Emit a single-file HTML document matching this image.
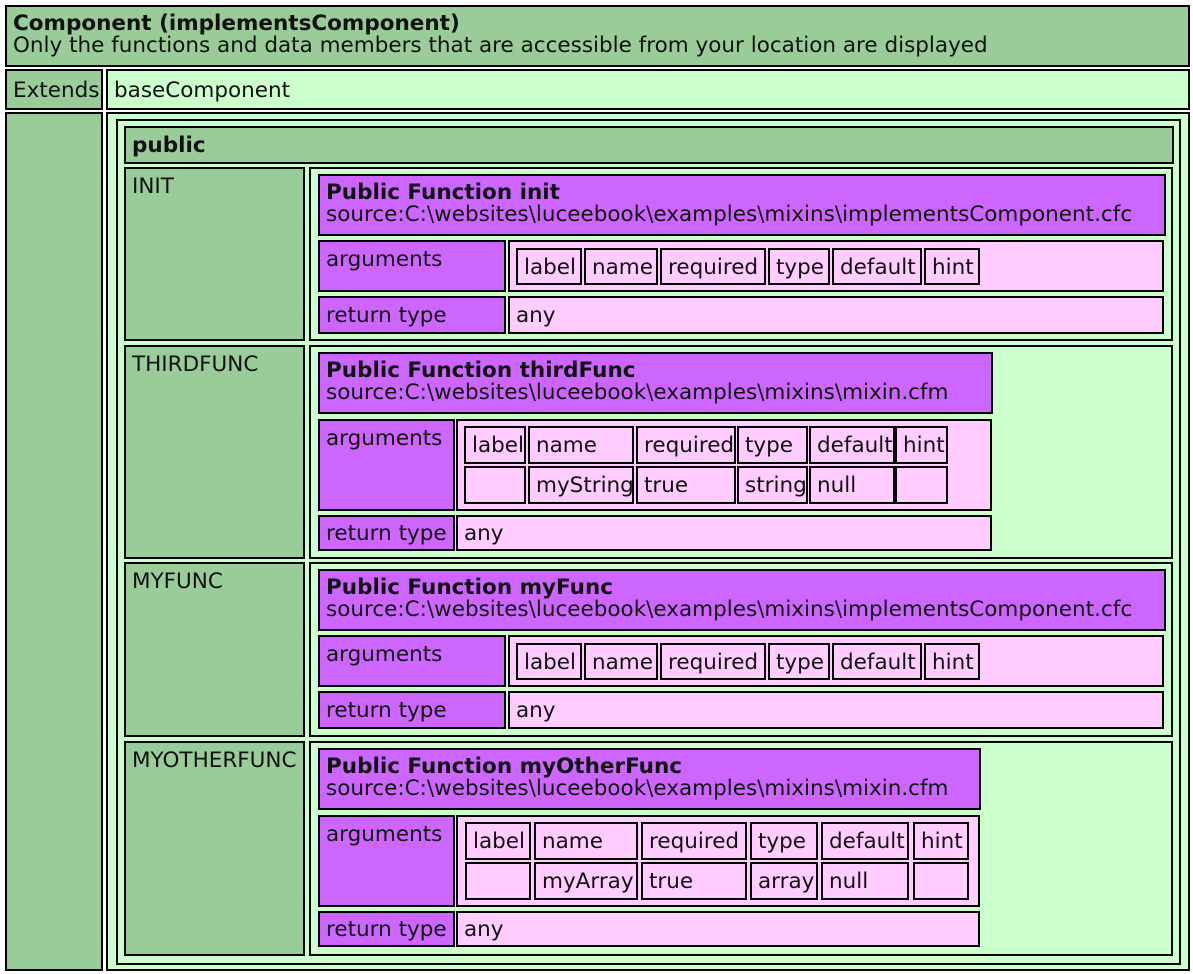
<!DOCTYPE html>
<html><head><meta charset="utf-8"><style>
body{margin:0;background:#fff;width:1193px;height:974px;position:relative;overflow:hidden;font-family:"DejaVu Sans","Liberation Sans",sans-serif;font-size:21.5px;color:#111}
.b{position:absolute;box-sizing:border-box;border:2px solid #000;padding:7px 4px 0 6px;line-height:22px;white-space:nowrap;overflow:hidden}
.c{display:flex;align-items:center;padding-top:2px;padding-bottom:0}
.g{background:#99cc99}.l{background:#ccffcc}.p{background:#cc66ff}.k{background:#ffccff}
b{font-weight:bold}
</style></head><body>
<div class="b g" style="left:5px;top:5px;width:1185px;height:62px;padding-top:6px"><b>Component (implementsComponent)</b><br>Only the functions and data members that are accessible from your location are displayed</div>
<div class="b g c" style="left:5px;top:69px;width:98px;height:41px">Extends</div>
<div class="b l c" style="left:106px;top:69px;width:1084px;height:41px">baseComponent</div>
<div class="b g" style="left:5px;top:112px;width:98px;height:859px"></div>
<div class="b l" style="left:106px;top:112px;width:1084px;height:859px"></div>
<div class="b l" style="left:116px;top:119px;width:1065px;height:846px"></div>
<div class="b g c" style="left:124px;top:126px;width:1050px;height:38px"><b>public</b></div>

<!-- INIT -->
<div class="b g" style="left:124px;top:167px;width:181px;height:174px">INIT</div>
<div class="b l" style="left:309px;top:167px;width:864px;height:174px"></div>
<div class="b p" style="left:318px;top:174px;width:848px;height:62px;padding-top:6px"><b>Public Function init</b><br>source:C:\websites\luceebook\examples\mixins\implementsComponent.cfc</div>
<div class="b p" style="left:318px;top:240px;width:188px;height:52px">arguments</div>
<div class="b k" style="left:508px;top:240px;width:656px;height:52px"></div>
<div class="b k c" style="left:516px;top:248px;width:66px;height:37px">label</div>
<div class="b k c" style="left:584px;top:248px;width:74px;height:37px">name</div>
<div class="b k c" style="left:660px;top:248px;width:106px;height:37px">required</div>
<div class="b k c" style="left:768px;top:248px;width:62px;height:37px">type</div>
<div class="b k c" style="left:832px;top:248px;width:90px;height:37px">default</div>
<div class="b k c" style="left:924px;top:248px;width:56px;height:37px">hint</div>
<div class="b p c" style="left:318px;top:296px;width:188px;height:38px">return type</div>
<div class="b k c" style="left:508px;top:296px;width:656px;height:38px">any</div>

<!-- THIRDFUNC -->
<div class="b g" style="left:124px;top:345px;width:181px;height:214px">THIRDFUNC</div>
<div class="b l" style="left:309px;top:345px;width:864px;height:214px"></div>
<div class="b p" style="left:318px;top:352px;width:675px;height:62px;padding-top:6px"><b>Public Function thirdFunc</b><br>source:C:\websites\luceebook\examples\mixins\mixin.cfm</div>
<div class="b p" style="left:318px;top:419px;width:137px;height:92px">arguments</div>
<div class="b k" style="left:456px;top:419px;width:536px;height:92px"></div>
<div class="b k c" style="left:464px;top:426px;width:62px;height:38px">label</div>
<div class="b k c" style="left:528px;top:426px;width:106px;height:38px">name</div>
<div class="b k c" style="left:636px;top:426px;width:100px;height:38px">required</div>
<div class="b k c" style="left:737px;top:426px;width:71px;height:38px">type</div>
<div class="b k c" style="left:809px;top:426px;width:86px;height:38px">default</div>
<div class="b k c" style="left:895px;top:426px;width:53px;height:38px">hint</div>
<div class="b k c" style="left:464px;top:466px;width:62px;height:38px"></div>
<div class="b k c" style="left:528px;top:466px;width:106px;height:38px">myString</div>
<div class="b k c" style="left:636px;top:466px;width:100px;height:38px">true</div>
<div class="b k c" style="left:737px;top:466px;width:71px;height:38px">string</div>
<div class="b k c" style="left:809px;top:466px;width:86px;height:38px">null</div>
<div class="b k c" style="left:895px;top:466px;width:53px;height:38px"></div>
<div class="b p c" style="left:318px;top:515px;width:137px;height:36px">return type</div>
<div class="b k c" style="left:456px;top:515px;width:536px;height:36px">any</div>

<!-- MYFUNC -->
<div class="b g" style="left:124px;top:562px;width:181px;height:175px">MYFUNC</div>
<div class="b l" style="left:309px;top:562px;width:864px;height:175px"></div>
<div class="b p" style="left:318px;top:569px;width:848px;height:62px;padding-top:6px"><b>Public Function myFunc</b><br>source:C:\websites\luceebook\examples\mixins\implementsComponent.cfc</div>
<div class="b p" style="left:318px;top:635px;width:188px;height:52px">arguments</div>
<div class="b k" style="left:508px;top:635px;width:656px;height:52px"></div>
<div class="b k c" style="left:516px;top:643px;width:66px;height:37px">label</div>
<div class="b k c" style="left:584px;top:643px;width:74px;height:37px">name</div>
<div class="b k c" style="left:660px;top:643px;width:106px;height:37px">required</div>
<div class="b k c" style="left:768px;top:643px;width:62px;height:37px">type</div>
<div class="b k c" style="left:832px;top:643px;width:90px;height:37px">default</div>
<div class="b k c" style="left:924px;top:643px;width:56px;height:37px">hint</div>
<div class="b p c" style="left:318px;top:691px;width:188px;height:38px">return type</div>
<div class="b k c" style="left:508px;top:691px;width:656px;height:38px">any</div>

<!-- MYOTHERFUNC -->
<div class="b g" style="left:124px;top:741px;width:181px;height:215px">MYOTHERFUNC</div>
<div class="b l" style="left:309px;top:741px;width:864px;height:215px"></div>
<div class="b p" style="left:318px;top:748px;width:663px;height:62px;padding-top:6px"><b>Public Function myOtherFunc</b><br>source:C:\websites\luceebook\examples\mixins\mixin.cfm</div>
<div class="b p" style="left:318px;top:815px;width:137px;height:92px">arguments</div>
<div class="b k" style="left:456px;top:815px;width:524px;height:92px"></div>
<div class="b k c" style="left:465px;top:822px;width:66px;height:38px">label</div>
<div class="b k c" style="left:534px;top:822px;width:104px;height:38px">name</div>
<div class="b k c" style="left:641px;top:822px;width:106px;height:38px">required</div>
<div class="b k c" style="left:750px;top:822px;width:68px;height:38px">type</div>
<div class="b k c" style="left:821px;top:822px;width:88px;height:38px">default</div>
<div class="b k c" style="left:913px;top:822px;width:56px;height:38px">hint</div>
<div class="b k c" style="left:465px;top:862px;width:66px;height:38px"></div>
<div class="b k c" style="left:534px;top:862px;width:104px;height:38px">myArray</div>
<div class="b k c" style="left:641px;top:862px;width:106px;height:38px">true</div>
<div class="b k c" style="left:750px;top:862px;width:68px;height:38px">array</div>
<div class="b k c" style="left:821px;top:862px;width:88px;height:38px">null</div>
<div class="b k c" style="left:913px;top:862px;width:56px;height:38px"></div>
<div class="b p c" style="left:318px;top:911px;width:137px;height:36px">return type</div>
<div class="b k c" style="left:456px;top:911px;width:524px;height:36px">any</div>
</body></html>
